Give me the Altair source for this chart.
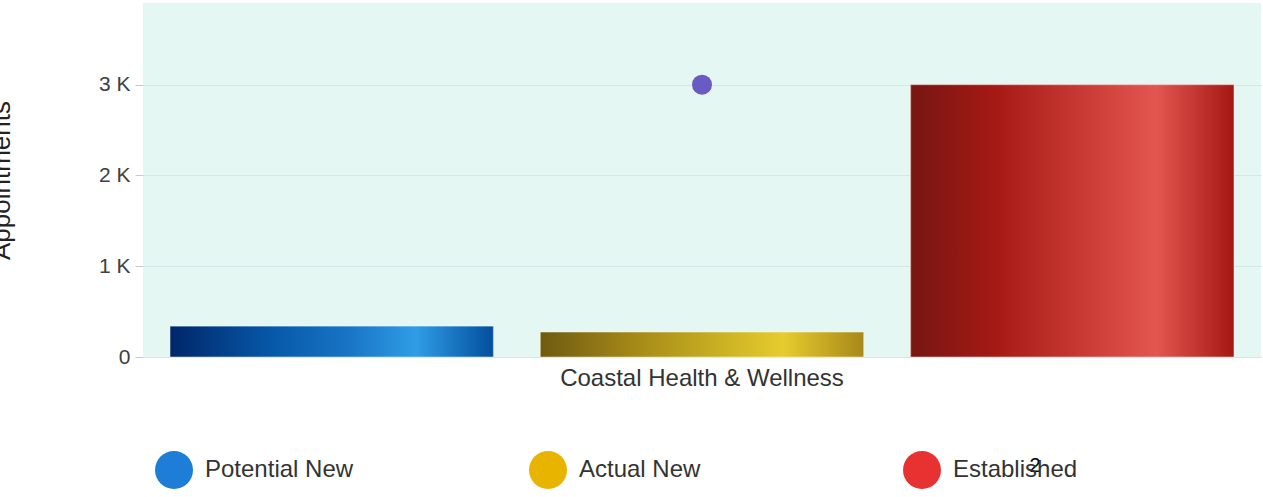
import altair as alt
import pandas as pd

FONT = "Liberation Sans"

group = "Coastal Health & Wellness"
series = ["Potential New", "Actual New", "Established"]
values = [340, 275, 3000]
point_value = 3000
legend_colors = ["#1E7DD6", "#E8B400", "#E83131"]
y_ticks = [0, 1000, 2000, 3000]

gradients = {
    "Potential New": [(0.0, "#012669"), (0.3, "#0656A6"), (0.55, "#1874C4"), (0.76, "#2F9DE6"), (1.0, "#034E9C")],
    "Actual New": [(0.0, "#6F5A12"), (0.3, "#A68A18"), (0.58, "#CDB424"), (0.75, "#E6CC2E"), (1.0, "#A8881A")],
    "Established": [(0.0, "#761612"), (0.26, "#A51914"), (0.55, "#CC3C36"), (0.76, "#E3564F"), (1.0, "#A41814")],
}

df = pd.DataFrame({"group": [group] * len(series), "series": series, "value": values})

x_enc = alt.X(
    "group:N",
    scale=alt.Scale(paddingInner=0, paddingOuter=0),
    axis=alt.Axis(title=None, labelAngle=0, domain=False, ticks=False, labelPadding=9,
                  labelFontSize=24, labelColor="#333333", labelFont=FONT, labelLimit=600),
)
xoff_enc = alt.XOffset("series:N", sort=series,
                       scale=alt.Scale(domain=series, paddingInner=0.127, paddingOuter=0.073))
y_enc = alt.Y(
    "value:Q",
    scale=alt.Scale(domain=[0, 3900], nice=False),
    axis=alt.Axis(values=y_ticks,
                  labelExpr="datum.value == 0 ? '0' : (datum.value/1000) + ' K'",
                  labelFontSize=21, labelColor="#404040", labelFont=FONT, labelPadding=5,
                  tickSize=8, tickColor="#C8C8C8", domain=False, grid=True, gridColor="#D2E8E4",
                  title="Appointments", titleFontSize=26, titleFont=FONT, titleFontWeight="normal",
                  titleColor="#222222", titleX=-134, titleY=177, titleBaseline="alphabetic"),
)

base = alt.Chart(df).encode(x=x_enc, xOffset=xoff_enc, y=y_enc)

legend_layer = base.mark_bar().encode(
    color=alt.Color("series:N", sort=series,
                    scale=alt.Scale(domain=series, range=legend_colors),
                    legend=alt.Legend(title=None, orient="none", legendX=12, legendY=448,
                                      direction="horizontal", columns=3, gridAlign="all",
                                      columnPadding=175, symbolType="circle", symbolSize=1444,
                                      symbolStrokeWidth=0, symbolOpacity=1, labelFontSize=24,
                                      labelFont=FONT, labelColor="#333333", labelOffset=12,
                                      labelLimit=300, padding=0))
)

layers = [legend_layer]
for s in series:
    grad = alt.Gradient(gradient="linear", x1=0, x2=1, y1=0, y2=0,
                        stops=[alt.GradientStop(offset=o, color=c) for o, c in gradients[s]])
    layers.append(
        base.transform_filter(alt.datum.series == s).mark_bar(
            fill=grad, stroke="#ffffff", strokeOpacity=0.45, strokeWidth=1
        )
    )

point = alt.Chart(pd.DataFrame({"group": [group], "value": [point_value]})).mark_point(
    filled=True, size=400, color="#6A5BC4", opacity=1
).encode(x=alt.X("group:N"), y=alt.Y("value:Q"))
layers.append(point)

stray = alt.Chart(pd.DataFrame({"t": ["2"]})).mark_text(
    font=FONT, fontSize=20, color="#000000", baseline="alphabetic", align="center"
).encode(x=alt.value(892), y=alt.value(469), text="t:N")
layers.append(stray)

chart = alt.layer(*layers).properties(
    width=1118, height=354,
    autosize=alt.AutoSizeParams(type="none"),
    padding={"left": 143, "top": 3, "right": 2, "bottom": 140},
).configure_view(fill="#E4F7F3", stroke=None)

chart.save("out.html", embed_options={"renderer": "svg", "actions": False})
